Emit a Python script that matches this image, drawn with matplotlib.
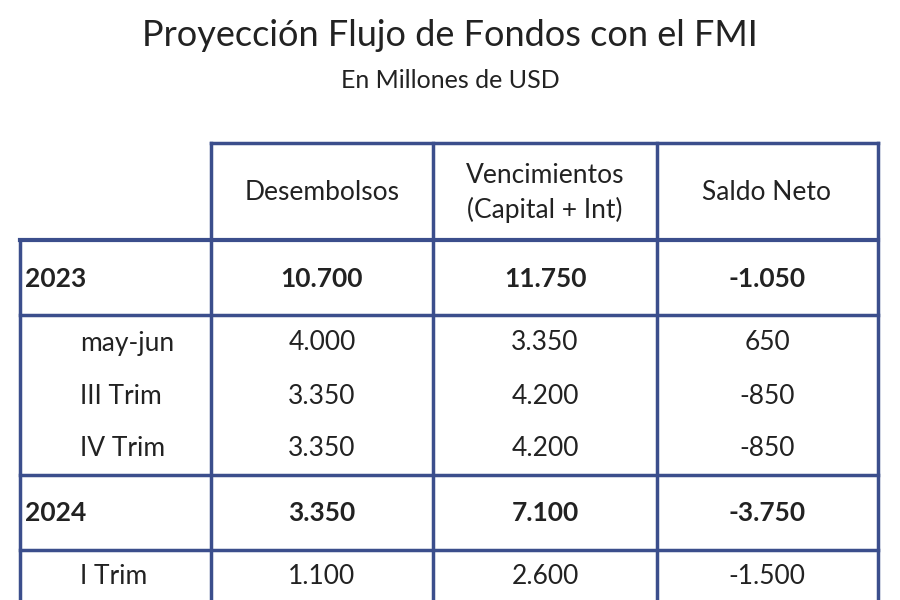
import matplotlib.pyplot as plt

plt.rcParams["font.family"] = ["Lato", "DejaVu Sans"]

TITLE = "Proyección Flujo de Fondos con el FMI"
SUBTITLE = "En Millones de USD"
HEADERS = ["Desembolsos", "Vencimientos\n(Capital + Int)", "Saldo Neto"]

ROW_LABELS = ["2023", "may-jun", "III Trim", "IV Trim", "2024", "I Trim"]
DESEMBOLSOS = ["10.700", "4.000", "3.350", "3.350", "3.350", "1.100"]
VENCIMIENTOS = ["11.750", "3.350", "4.200", "4.200", "7.100", "2.600"]
SALDO = ["-1.050", "650", "-850", "-850", "-3.750", "-1.500"]
IS_TOTAL = [True, False, False, False, True, False]

BORDER = "#3b4e8c"
TEXT = "#222222"

row_y = [279, 343, 396, 449, 513, 576]
col_x = [322, 545, 767]

fig = plt.figure(figsize=(9, 6), dpi=100)
ax = fig.add_axes([0, 0, 1, 1])
ax.set_xlim(0, 900)
ax.set_ylim(600, 0)
ax.axis("off")

ax.text(450, 36, TITLE, ha="center", va="center", fontsize=26, color=TEXT)
ax.text(450, 81, SUBTITLE, ha="center", va="center", fontsize=18, color=TEXT)

# bordes
lw = 2.5
ax.plot([211, 878], [143, 143], color=BORDER, lw=lw)
for y in [240, 315, 475, 550]:
    ax.plot([20, 878], [y, y], color=BORDER, lw=lw + (0.5 if y == 240 else 0))
ax.plot([20, 20], [240, 600], color=BORDER, lw=lw)
for x in [211, 433, 657, 878]:
    ax.plot([x, x], [143, 600], color=BORDER, lw=lw)

for x, h in zip(col_x, HEADERS):
    ax.text(x, 193, h, ha="center", va="center", fontsize=19, color=TEXT,
            linespacing=1.4)

for i, lab in enumerate(ROW_LABELS):
    y = row_y[i]
    w = "bold" if IS_TOTAL[i] else "normal"
    if IS_TOTAL[i]:
        ax.text(25, y, lab, ha="left", va="center", fontsize=19, weight=w, color=TEXT)
    else:
        ax.text(80, y, lab, ha="left", va="center", fontsize=19, color=TEXT)
    for x, v in zip(col_x, [DESEMBOLSOS[i], VENCIMIENTOS[i], SALDO[i]]):
        ax.text(x, y, v, ha="center", va="center", fontsize=19, weight=w, color=TEXT)

fig.savefig("out.png", dpi=100)
